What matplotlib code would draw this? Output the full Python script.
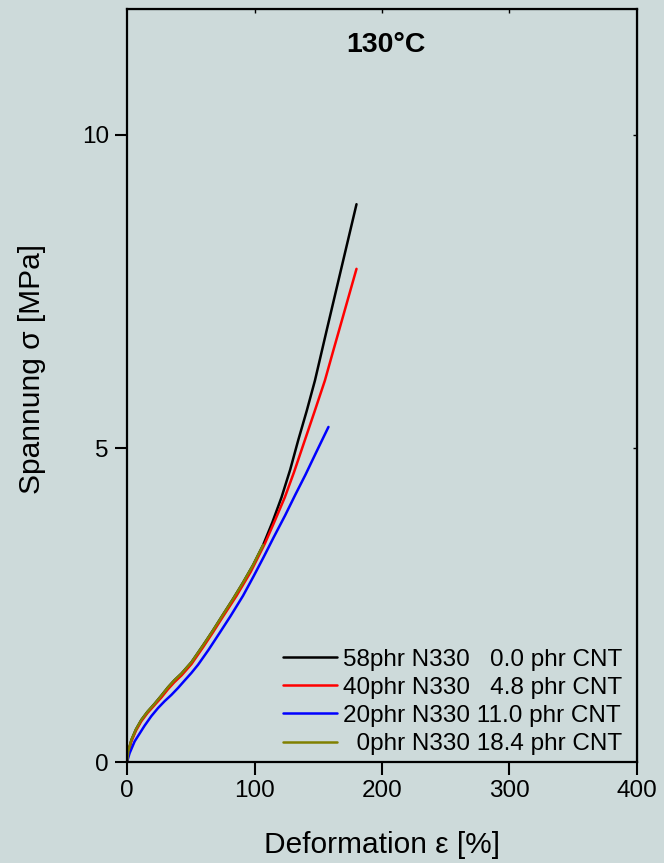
import numpy as np
import matplotlib
matplotlib.use('Agg')
import matplotlib.pyplot as plt

plt.rcParams['font.family'] = ['Liberation Sans', 'DejaVu Sans']

# Daten
eps_58 = [0, 1, 3.4, 7, 11.2, 16, 21.7, 27, 32.1, 37, 42.7, 50.5, 60, 67.5, 75, 83.2,
          91, 98.9, 106.8, 114, 121.2, 128, 134.3, 141, 147.4, 156.6, 168, 180]
sig_58 = [0, 0.17, 0.35, 0.52, 0.67, 0.80, 0.93, 1.06, 1.19, 1.30, 1.41, 1.59, 1.87, 2.10,
          2.34, 2.60, 2.86, 3.14, 3.46, 3.82, 4.22, 4.66, 5.13, 5.60, 6.08, 6.88, 7.86, 8.89]

eps_40 = [0, 1, 3.4, 7, 11.2, 16, 21.7, 27, 32.1, 37, 42.7, 50.5, 60, 67.5, 75, 85.9,
          97, 108.1, 115, 123.8, 131, 139.5, 147, 155.2, 161.7, 168, 174, 180]
sig_40 = [0, 0.16, 0.33, 0.50, 0.65, 0.78, 0.91, 1.03, 1.16, 1.27, 1.38, 1.56, 1.84, 2.07,
          2.31, 2.65, 3.03, 3.48, 3.80, 4.22, 4.62, 5.13, 5.58, 6.08, 6.55, 7.00, 7.43, 7.86]

eps_20 = [0, 2, 6, 13.8, 19, 24.3, 29.5, 34.8, 40, 45.2, 50.5, 55.7, 64, 72.7, 81, 91,
          99, 107, 115, 124, 132, 140, 148, 158]
sig_20 = [0, 0.14, 0.33, 0.58, 0.73, 0.86, 0.97, 1.07, 1.18, 1.30, 1.42, 1.55, 1.79, 2.06,
          2.32, 2.65, 2.95, 3.26, 3.58, 3.93, 4.26, 4.58, 4.92, 5.34]

eps_0 = [0, 1, 3.4, 7, 11.2, 16, 21.7, 27, 32.1, 37, 42.7, 50.5, 60, 67.5, 75, 83.2,
         91, 98.9, 106.8]
sig_0 = [0, 0.17, 0.35, 0.52, 0.67, 0.80, 0.93, 1.06, 1.19, 1.30, 1.41, 1.59, 1.87, 2.10,
         2.34, 2.60, 2.86, 3.14, 3.46]

labels = ['58phr N330   0.0 phr CNT',
          '40phr N330   4.8 phr CNT',
          '20phr N330 11.0 phr CNT',
          '  0phr N330 18.4 phr CNT']
colors = ['black', '#ff0000', '#0000ff', '#808000']

bg = '#cddada'
fig = plt.figure(figsize=(6.64, 8.63), dpi=100, facecolor=bg)
ax = fig.add_axes([0.1913, 0.117, 0.768, 0.8725], facecolor=bg)

series = [(eps_58, sig_58), (eps_40, sig_40), (eps_20, sig_20), (eps_0, sig_0)]
for (x, y), c, lab in zip(series, colors, labels):
    ax.plot(x, y, color=c, lw=1.8, label=lab, solid_capstyle='round',
            solid_joinstyle='round')

ax.set_xlim(0, 400)
ax.set_ylim(0, 12)
ax.set_xticks([0, 100, 200, 300, 400])
ax.set_yticks([0, 5, 10])
ax.tick_params(direction='out', length=9, width=1.5, labelsize=17.5, pad=4)
for s in ax.spines.values():
    s.set_linewidth(1.6)

# kleine Ticks oben und rechts
top = ax.secondary_xaxis('top')
top.set_xticks([100, 200, 300])
top.tick_params(direction='in', length=3, width=1, labeltop=False)
right = ax.secondary_yaxis('right')
right.set_yticks([5, 10])
right.tick_params(direction='in', length=3, width=1, labelright=False)

ax.set_xlabel('Deformation ε [%]', fontsize=21.5, labelpad=21)
ax.set_ylabel('Spannung σ [MPa]', fontsize=21.5, labelpad=26, y=0.522)

ax.text(0.507, 0.952, '130°C', transform=ax.transAxes, ha='center', va='center',
        fontsize=20.5, fontweight='bold')

ax.legend(loc='lower right', bbox_to_anchor=(0.9898, -0.0037), frameon=False,
          fontsize=17.5, handlelength=2.2, handletextpad=0.25, labelspacing=0.25,
          borderaxespad=0)

fig.savefig('out.png', dpi=100, facecolor=bg)
